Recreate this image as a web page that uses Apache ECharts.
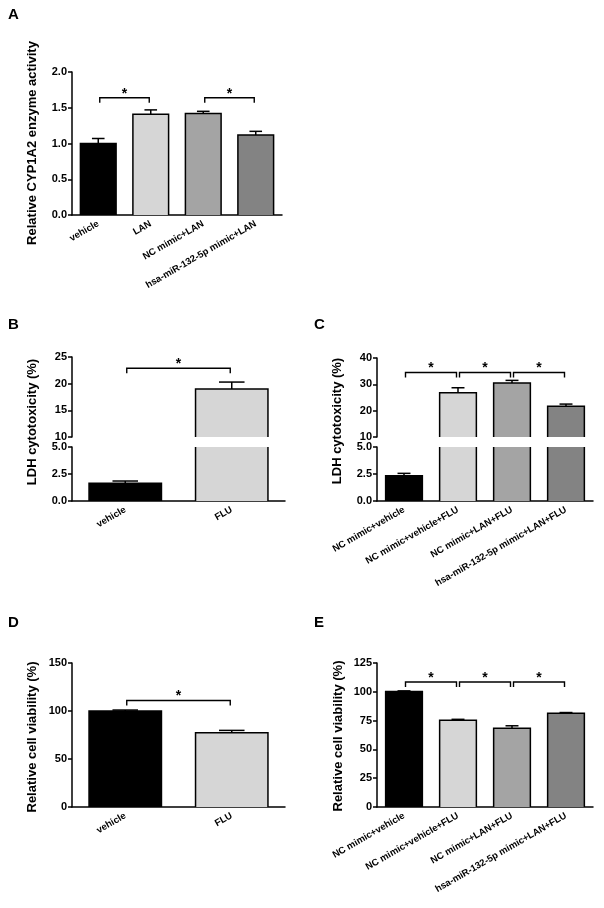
<!DOCTYPE html>
<html>
<head>
<meta charset="utf-8">
<script src="https://cdn.jsdelivr.net/npm/echarts@6/dist/echarts.min.js"></script>
<style>
  html, body { margin: 0; background: #fff; }
  #chart { width: 604px; height: 908px; }
</style>
</head>
<body>
<div id="chart"></div>
<script>
// panel A
const catsA = ['vehicle', 'LAN', 'NC mimic+LAN', 'hsa-miR-132-5p mimic+LAN']
const valsA = [1.0, 1.41, 1.42, 1.12]
const errA = [0.07, 0.06, 0.03, 0.05]
const sigA = [[0, 1, 1.64], [2, 3, 1.64]]
const yTicksA = [0, 2, 0.5]

// panel B (broken axis)
const catsB = ['vehicle', 'FLU']
const valsB = [1.65, 19.0]
const errB = [0.2, 1.3]
const sigB = [[0, 1, 22.9]]
const yLowB = [0, 5, 2.5]
const yHighB = [10, 25, 5]

// panel C (broken axis)
const catsC = ['NC mimic+vehicle', 'NC mimic+vehicle+FLU', 'NC mimic+LAN+FLU', 'hsa-miR-132-5p mimic+LAN+FLU']
const valsC = [2.34, 26.8, 30.5, 21.7]
const errC = [0.22, 1.9, 1.0, 0.8]
const sigC = [[0, 1, 34.5], [1, 2, 34.5], [2, 3, 34.5]]
const yLowC = [0, 5, 2.5]
const yHighC = [10, 40, 10]

// panel D
const catsD = ['vehicle', 'FLU']
const valsD = [100, 77.3]
const errD = [1, 2.5]
const sigD = [[0, 1, 111]]
const yTicksD = [0, 150, 50]

// panel E
const catsE = ['NC mimic+vehicle', 'NC mimic+vehicle+FLU', 'NC mimic+LAN+FLU', 'hsa-miR-132-5p mimic+LAN+FLU']
const valsE = [100.2, 75.3, 68.3, 81.3]
const errE = [0.6, 0.8, 2.2, 0.7]
const sigE = [[0, 1, 108.5], [1, 2, 108.5], [2, 3, 108.5]]
const yTicksE = [0, 125, 25]

const FONT = '"Liberation Sans", Arial, sans-serif'
const fills4 = ['#000000', '#d6d6d6', '#a4a4a4', '#838383']
const fills2 = ['#000000', '#d6d6d6']
const BAR = 0.68

const chart = echarts.init(document.getElementById('chart'))

// bars are drawn by hand so that a broken axis cuts them without a border at the cut
function barRenderer(fills) {
  return function (params, api) {
    const cs = params.coordSys
    const i = api.value(0)
    const v = api.value(1)
    const p0 = api.coord([i, 0])
    const p1 = api.coord([i, v])
    const w = api.size([1, 0])[0] * BAR
    const top = Math.max(p1[1], cs.y)
    const bot = Math.min(p0[1], cs.y + cs.height)
    if (top >= bot) return
    const x0 = p0[0] - w / 2
    const x1 = p0[0] + w / 2
    const line = { stroke: '#000', lineWidth: 1.5, fill: null }
    const children = [{
      type: 'rect',
      shape: { x: x0, y: top, width: w, height: bot - top },
      style: { fill: fills[params.dataIndex] }
    }]
    if (p1[1] >= cs.y) {
      children.push({ type: 'polyline', shape: { points: [[x0, bot], [x0, top], [x1, top], [x1, bot]] }, style: line })
    } else {
      children.push({ type: 'line', shape: { x1: x0, y1: top, x2: x0, y2: bot }, style: line })
      children.push({ type: 'line', shape: { x1: x1, y1: top, x2: x1, y2: bot }, style: line })
    }
    return { type: 'group', children }
  }
}

function renderErr(params, api) {
  const cs = params.coordSys
  const i = api.value(0)
  const v = api.value(1)
  const a = api.coord([i, v])
  const b = api.coord([i, v + api.value(2)])
  if (a[1] > cs.y + cs.height + 0.5 || b[1] < cs.y - 0.5) return
  const cap = api.size([1, 0])[0] * 0.12
  const st = { stroke: '#000', lineWidth: 1.5 }
  return {
    type: 'group',
    children: [
      { type: 'line', shape: { x1: a[0], y1: a[1], x2: b[0], y2: b[1] }, style: st },
      { type: 'line', shape: { x1: b[0] - cap, y1: b[1], x2: b[0] + cap, y2: b[1] }, style: st }
    ]
  }
}

function renderSig(params, api) {
  const a = api.coord([api.value(0), api.value(2)])
  const b = api.coord([api.value(1), api.value(2)])
  const g = 1.5
  const drop = 5
  return {
    type: 'group',
    children: [
      {
        type: 'polyline',
        shape: { points: [[a[0] + g, a[1] + drop], [a[0] + g, a[1]], [b[0] - g, a[1]], [b[0] - g, a[1] + drop]] },
        style: { stroke: '#000', lineWidth: 1.4, fill: null }
      },
      {
        type: 'text',
        style: { text: '*', x: (a[0] + b[0]) / 2, y: a[1] - 4, align: 'center', verticalAlign: 'middle', font: 'bold 14px ' + FONT, fill: '#000' }
      }
    ]
  }
}

function grid(left, top, width, height) {
  return { left, top, width, height, outerBoundsMode: 'none' }
}

function xAx(gi, cats, show) {
  return {
    type: 'category',
    gridIndex: gi,
    data: cats,
    show,
    axisLine: { lineStyle: { color: '#000', width: 1.5 } },
    axisTick: { alignWithLabel: true, length: 4, lineStyle: { color: '#000', width: 1.5 } },
    axisLabel: { rotate: 30, interval: 0, color: '#000', fontWeight: 'bold', fontSize: 9.5, fontFamily: FONT, margin: 8 }
  }
}

function yAx(gi, t, digits) {
  return {
    type: 'value',
    gridIndex: gi,
    min: t[0],
    max: t[1],
    interval: t[2],
    axisLine: { show: true, lineStyle: { color: '#000', width: 1.5 } },
    axisTick: { show: true, length: 4, lineStyle: { color: '#000', width: 1.5 } },
    splitLine: { show: false },
    axisLabel: { color: '#000', fontWeight: 'bold', fontSize: 11, fontFamily: FONT, margin: 5, formatter: v => v.toFixed(digits) }
  }
}

function panel(gi, vals, errs, fills, sigs) {
  const out = [
    { type: 'custom', xAxisIndex: gi, yAxisIndex: gi, clip: false, silent: true, renderItem: barRenderer(fills), data: vals.map((v, i) => [i, v]) },
    { type: 'custom', xAxisIndex: gi, yAxisIndex: gi, clip: false, silent: true, z: 3, renderItem: renderErr, data: vals.map((v, i) => [i, v, errs[i]]) }
  ]
  if (sigs) {
    out.push({ type: 'custom', xAxisIndex: gi, yAxisIndex: gi, clip: false, silent: true, renderItem: renderSig, encode: { x: 0, y: 2 }, data: sigs })
  }
  return out
}

function ytitle(text, x, y) {
  return { type: 'text', x, y, rotation: Math.PI / 2, style: { text, align: 'center', verticalAlign: 'middle', font: 'bold 13px ' + FONT, fill: '#000' } }
}
function letter(text, x, y) {
  return { type: 'text', x, y, style: { text, align: 'left', verticalAlign: 'middle', font: 'bold 15px ' + FONT, fill: '#000' } }
}

const option = {
  animation: false,
  backgroundColor: '#fff',
  grid: [
    grid(72, 72, 210, 143),   // 0 A
    grid(72, 357, 213, 80),   // 1 B upper
    grid(72, 447, 213, 54),   // 2 B lower
    grid(377, 358, 216, 79),  // 3 C upper
    grid(377, 447, 216, 54),  // 4 C lower
    grid(72, 663, 213, 144),  // 5 D
    grid(377, 663, 216, 144)  // 6 E
  ],
  xAxis: [
    xAx(0, catsA, true),
    xAx(1, catsB, false),
    xAx(2, catsB, true),
    xAx(3, catsC, false),
    xAx(4, catsC, true),
    xAx(5, catsD, true),
    xAx(6, catsE, true)
  ],
  yAxis: [
    yAx(0, yTicksA, 1),
    yAx(1, yHighB, 0),
    yAx(2, yLowB, 1),
    yAx(3, yHighC, 0),
    yAx(4, yLowC, 1),
    yAx(5, yTicksD, 0),
    yAx(6, yTicksE, 0)
  ],
  series: [].concat(
    panel(0, valsA, errA, fills4, sigA),
    panel(1, valsB, errB, fills2, sigB),
    panel(2, valsB, errB, fills2, null),
    panel(3, valsC, errC, fills4, sigC),
    panel(4, valsC, errC, fills4, null),
    panel(5, valsD, errD, fills2, sigD),
    panel(6, valsE, errE, fills4, sigE)
  ),
  graphic: [
    letter('A', 8, 15),
    letter('B', 8, 325),
    letter('C', 314, 325),
    letter('D', 8, 623),
    letter('E', 314, 623),
    ytitle('Relative CYP1A2 enzyme activity', 32, 143),
    ytitle('LDH cytotoxicity (%)', 32, 422),
    ytitle('LDH cytotoxicity (%)', 337, 421),
    ytitle('Relative cell viability (%)', 32, 737),
    ytitle('Relative cell viability (%)', 338, 736)
  ]
}

chart.setOption(option)
window.addEventListener('resize', () => {
  chart.resize()
})
</script>
</body>
</html>
